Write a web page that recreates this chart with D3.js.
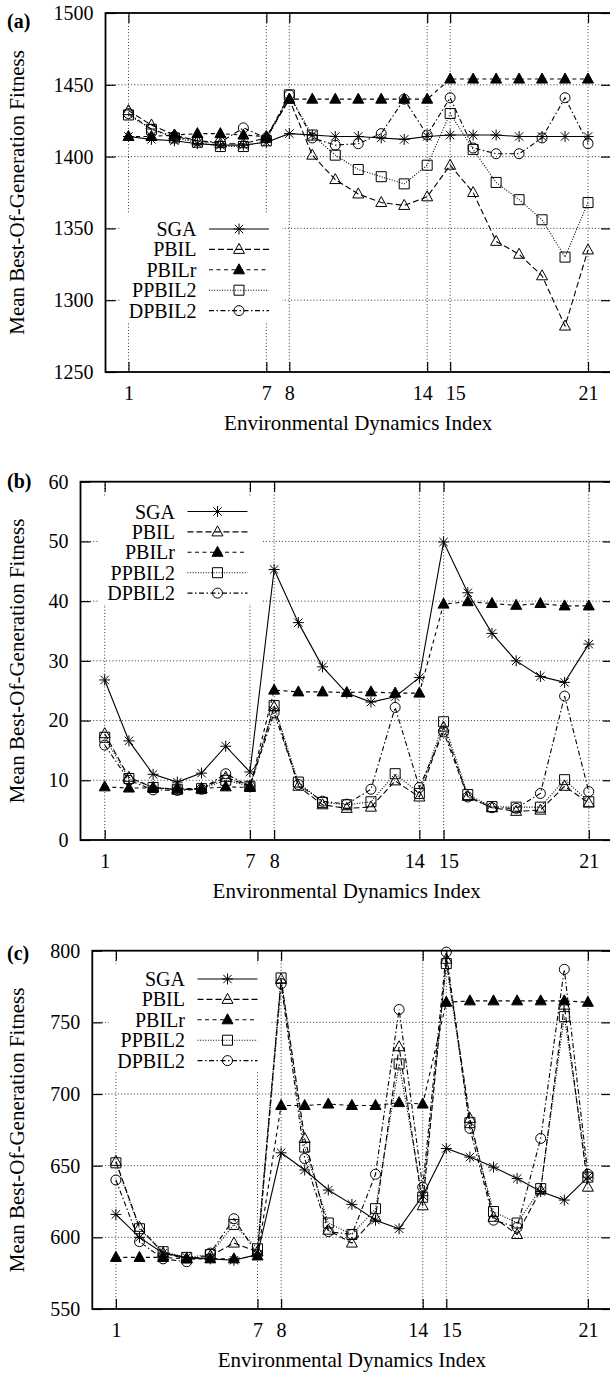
<!DOCTYPE html>
<html><head><meta charset="utf-8">
<script src="https://cdn.jsdelivr.net/npm/d3@7"></script>
<style>
body{margin:0;background:#fff}
svg{display:block}
text{font-family:"Liberation Serif","Times New Roman",serif;fill:#000}
</style>
</head><body>
<svg id="chart" width="610" height="1373"></svg>
<script>
// ---------------- DATA ----------------
const envIndex = d3.range(1, 22);
const xTickValues = [1, 7, 8, 14, 15, 21];
const seriesNames = ["SGA", "PBIL", "PBILr", "PPBIL2", "DPBIL2"];

// panel (a)
const aTicks = [1250, 1300, 1350, 1400, 1450, 1500];
const aSGA    = [1414,1412,1411,1409,1408,1408,1410,1416,1415,1414,1414,1413,1412,1414,1415,1415,1415,1414,1414,1414,1414];
const aPBIL   = [1432,1422,1415,1411,1409,1409,1413,1440,1401,1384,1374,1368,1366,1372,1394,1375,1341,1332,1317,1282,1335];
const aPBILr  = [1414,1414,1415,1416,1416,1415,1414,1440,1440,1440,1440,1440,1440,1440,1454,1454,1454,1454,1454,1454,1454];
const aPPBIL2 = [1429,1419,1413,1410,1407,1407,1411,1443,1415,1401,1391,1386,1381,1394,1430,1405,1382,1370,1356,1330,1368];
const aDPBIL2 = [1430,1419,1414,1411,1410,1420,1413,1443,1413,1408,1409,1416,1440,1415,1441,1406,1402,1402,1413,1441,1409];

// panel (b)
const bTicks = [0, 10, 20, 30, 40, 50, 60];
const bSGA    = [26.8,16.6,11.0,9.7,11.2,15.7,11.4,45.3,36.4,29.0,24.6,23.1,24.0,27.2,49.9,41.4,34.6,30.0,27.4,26.4,32.8];
const bPBIL   = [17.8,10.5,8.8,8.4,8.6,10.5,9.0,22.3,9.0,5.9,5.3,5.5,9.9,7.2,18.9,7.3,5.4,4.8,5.0,9.0,6.2];
const bPBILr  = [8.9,8.7,8.7,8.6,8.6,8.9,8.8,25.1,24.8,24.8,24.7,24.8,24.6,24.6,39.5,39.9,39.6,39.3,39.6,39.2,39.2];
const bPPBIL2 = [17.2,10.3,8.8,8.5,8.6,10.0,9.0,22.5,9.7,6.3,5.9,6.4,11.1,7.8,19.8,7.6,5.6,5.5,5.5,10.1,6.4];
const bDPBIL2 = [15.9,10.0,8.4,8.3,8.5,11.1,9.0,21.3,9.3,6.5,6.0,8.5,22.2,8.8,18.1,7.2,5.4,5.3,7.8,24.1,8.1];

// panel (c)
const cTicks = [550, 600, 650, 700, 750, 800];
const cSGA    = [616,600,589,586,585,584,588,659,647,633,623,612,606,629,662,656,649,641,632,626,642];
const cPBIL   = [653,607,589,585,587,596,590,780,669,605,596,614,733,622,794,683,614,602,633,762,635];
const cPBILr  = [586,586,586,585,585,585,587,692,692,693,692,692,694,693,764,765,765,765,765,765,764];
const cPPBIL2 = [652,606,590,586,588,609,592,781,663,610,602,620,721,628,791,680,618,610,634,754,642];
const cDPBIL2 = [640,597,585,583,589,613,588,777,655,604,602,644,759,635,799,676,612,607,669,787,644];

// ---------------- LAYOUT / STYLE ----------------
const styles = {
  SGA:    {dash: null,            marker: "star"},
  PBIL:   {dash: "6,3",           marker: "tri"},
  PBILr:  {dash: "4,3.5",         marker: "ftri"},
  PPBIL2: {dash: "1,1.6",         marker: "sq"},
  DPBIL2: {dash: "5,2.5,1.5,2.5", marker: "circ"}
};
const labelNudge = {14: -5, 15: 5};

const panels = [
  {label: "(a)", labelY: 28, left: 105.5, right: 611, top: 13, bottom: 372, domain: [1250, 1500], ticks: aTicks,
   series: [aSGA, aPBIL, aPBILr, aPPBIL2, aDPBIL2], legX: 196.5, legY: 229},
  {label: "(b)", labelY: 488, left: 80.5, right: 613, top: 481.7, bottom: 840, domain: [0, 60], ticks: bTicks,
   series: [bSGA, bPBIL, bPBILr, bPPBIL2, bDPBIL2], legX: 175, legY: 511.5},
  {label: "(c)", labelY: 960, left: 92.3, right: 611.5, top: 950.7, bottom: 1309, domain: [550, 800], ticks: cTicks,
   series: [cSGA, cPBIL, cPBILr, cPPBIL2, cDPBIL2], legX: 185, legY: 979}
];

function markerPath(type) {
  switch (type) {
    case "star": return "M-5.5,0H5.5M0,-5.5V5.5M-4.2,-4.2L4.2,4.2M-4.2,4.2L4.2,-4.2";
    case "tri":
    case "ftri": return "M0,-6L5.5,4L-5.5,4Z";
    case "sq": return "M-5,-5H5V5H-5Z";
    case "circ": return "M5,0A5,5 0 1,1 -5,0A5,5 0 1,1 5,0Z";
  }
}
function drawMarker(sel, type) {
  sel.attr("d", markerPath(type))
     .attr("fill", type === "ftri" ? "#000" : "none")
     .attr("stroke", "#000").attr("stroke-width", 1);
}

const svg = d3.select("#chart");
const FONT = 20;

panels.forEach(p => {
  const g = svg.append("g");
  const x = d3.scaleLinear().domain([0, 22]).range([p.left, p.right]);
  const y = d3.scaleLinear().domain(p.domain).range([p.bottom, p.top]);

  // grid
  g.append("g").selectAll("line").data(p.ticks.slice(1, -1)).join("line")
    .attr("x1", p.left).attr("x2", p.right).attr("y1", d => y(d)).attr("y2", d => y(d))
    .attr("stroke", "#333").attr("stroke-width", 1).attr("stroke-dasharray", "1,2.2");
  g.append("g").selectAll("line").data(xTickValues).join("line")
    .attr("x1", d => x(d)).attr("x2", d => x(d)).attr("y1", p.top).attr("y2", p.bottom)
    .attr("stroke", "#333").attr("stroke-width", 1).attr("stroke-dasharray", "1,2.2");

  // axes (ticks inward)
  const ax = (gen, tr) => {
    const a = g.append("g").attr("transform", tr).call(gen);
    a.select(".domain").remove();
    a.selectAll("line").attr("stroke", "#000").attr("stroke-width", 1.2);
    a.selectAll("text").attr("font-size", FONT).attr("font-family", '"Liberation Serif",serif');
    a.attr("font-family", null).attr("font-size", null);
    return a;
  };
  ax(d3.axisLeft(y).tickValues(p.ticks).tickSizeInner(-10).tickSizeOuter(0).tickPadding(12).tickFormat(d3.format("d")),
     `translate(${p.left},0)`);
  ax(d3.axisRight(y).tickValues(p.ticks).tickSizeInner(-10).tickSizeOuter(0).tickFormat(""),
     `translate(${p.right},0)`);
  ax(d3.axisBottom(x).tickValues(xTickValues).tickSizeInner(-10).tickSizeOuter(0).tickPadding(14).tickFormat(d3.format("d")),
     `translate(0,${p.bottom})`)
    .selectAll("text").attr("dx", d => labelNudge[d] || 0);
  ax(d3.axisTop(x).tickValues(xTickValues).tickSizeInner(-10).tickSizeOuter(0).tickFormat(""),
     `translate(0,${p.top})`);

  // data
  const line = d3.line().x((d, i) => x(envIndex[i])).y(d => y(d));
  p.series.forEach((vals, si) => {
    const st = styles[seriesNames[si]];
    g.append("path").attr("d", line(vals)).attr("fill", "none")
      .attr("stroke", "#000").attr("stroke-width", 1.1)
      .attr("stroke-dasharray", st.dash);
    g.append("g").selectAll("path").data(vals).join("path")
      .attr("transform", (d, i) => `translate(${x(envIndex[i])},${y(d)})`)
      .call(drawMarker, st.marker);
  });

  // frame
  g.append("rect").attr("x", p.left).attr("y", p.top)
    .attr("width", p.right - p.left).attr("height", p.bottom - p.top)
    .attr("fill", "none").attr("stroke", "#000").attr("stroke-width", 1.8);

  // legend (opaque)
  const rowH = 20.4;
  g.append("rect").attr("x", p.legX - 76).attr("y", p.legY - 15)
    .attr("width", 162).attr("height", rowH * 4 + 26).attr("fill", "#fff");
  seriesNames.forEach((name, i) => {
    const ry = p.legY + i * rowH;
    const st = styles[name];
    g.append("text").attr("x", p.legX).attr("y", ry + 7).attr("text-anchor", "end")
      .attr("font-size", FONT).text(name);
    g.append("line").attr("x1", p.legX + 12.5).attr("x2", p.legX + 72.5).attr("y1", ry).attr("y2", ry)
      .attr("stroke", "#000").attr("stroke-width", 1.1).attr("stroke-dasharray", st.dash);
    g.append("path").attr("transform", `translate(${p.legX + 42.5},${ry})`).call(drawMarker, st.marker);
  });

  // titles
  g.append("text").attr("x", (p.left + p.right) / 2).attr("y", p.bottom + 58)
    .attr("text-anchor", "middle").attr("font-size", 21).text("Environmental Dynamics Index");
  g.append("text").attr("transform", `translate(23.5,${(p.top + p.bottom) / 2}) rotate(-90)`)
    .attr("text-anchor", "middle").attr("font-size", 21).text("Mean Best-Of-Generation Fitness");
  g.append("text").attr("x", 7).attr("y", p.labelY).attr("font-size", 20).attr("font-weight", "bold").text(p.label);
});
</script>
</body></html>
